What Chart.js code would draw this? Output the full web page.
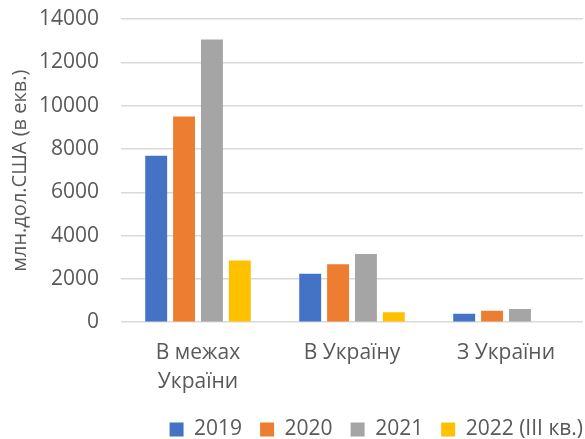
<!DOCTYPE html>
<html>
<head>
<meta charset="utf-8">
<script src="https://cdn.jsdelivr.net/npm/chart.js@4/dist/chart.umd.min.js"></script>
<style>
  html,body{margin:0;padding:0;background:#fff;}
  #c{display:block;}
</style>
</head>
<body>
<canvas id="c" width="585" height="439"></canvas>
<script>
/* chart data */
const categories = [['В межах', 'України'], 'В Україну', 'З України'];
const seriesNames = ['2019', '2020', '2021', '2022 (ІІІ кв.)'];
const v2019 = [7690, 2240, 390];
const v2020 = [9500, 2680, 530];
const v2021 = [13050, 3145, 610];
const v2022 = [2850, 455, 0];
const yTicks = [0, 2000, 4000, 6000, 8000, 10000, 12000, 14000];
const axisTitle = 'млн.дол.США (в екв.)';

const colors = ['#4472C4', '#ED7D31', '#A5A5A5', '#FFC000'];
const FONT = "'Open Sans', sans-serif";
const TXT = '#595959';
const LEGEND_PAD = 18;

const series = [v2019, v2020, v2021, v2022];

/* push the right-aligned legend flush to the plot's right edge */
const legendShift = {
  id: 'legendShift',
  afterLayout(chart) {
    if (chart.legend) { chart.legend.left += LEGEND_PAD; chart.legend.right += LEGEND_PAD; }
  }
};

new Chart(document.getElementById('c'), {
  type: 'bar',
  data: {
    labels: categories,
    datasets: series.map((vals, i) => ({
      label: seriesNames[i],
      data: vals,
      backgroundColor: colors[i],
      borderWidth: 0,
      categoryPercentage: 0.724,
      barPercentage: 0.786
    }))
  },
  plugins: [legendShift],
  options: {
    responsive: false,
    animation: false,
    layout: {padding: {top: 0, right: 2, left: 8, bottom: -11}},
    plugins: {
      tooltip: {enabled: false},
      legend: {
        position: 'bottom',
        align: 'end',
        labels: {
          boxWidth: 14, boxHeight: 14, padding: LEGEND_PAD,
          color: TXT,
          font: {family: FONT, size: 21}
        }
      }
    },
    scales: {
      x: {
        grid: {display: false},
        border: {display: false},
        ticks: {
          color: TXT, maxRotation: 0, padding: 8,
          font: {family: FONT, size: 21, lineHeight: 1.4}
        },
        afterFit: ax => { ax.height -= 4; }
      },
      y: {
        min: 0, max: 14000,
        afterBuildTicks: ax => { ax.ticks = yTicks.map(v => ({value: v})); },
        afterFit: ax => { ax.width = 113; ax.paddingTop = 19; ax.paddingBottom = 12; },
        grid: {color: '#D9D9D9', lineWidth: 1.5, drawTicks: false},
        border: {display: false},
        ticks: {
          color: TXT, padding: 22,
          font: {family: FONT, size: 21},
          callback: v => String(v)
        },
        title: {
          display: true, text: axisTitle, color: TXT,
          font: {family: FONT, size: 20}, padding: {top: 0, bottom: 6}
        }
      }
    }
  }
});
</script>
</body>
</html>
